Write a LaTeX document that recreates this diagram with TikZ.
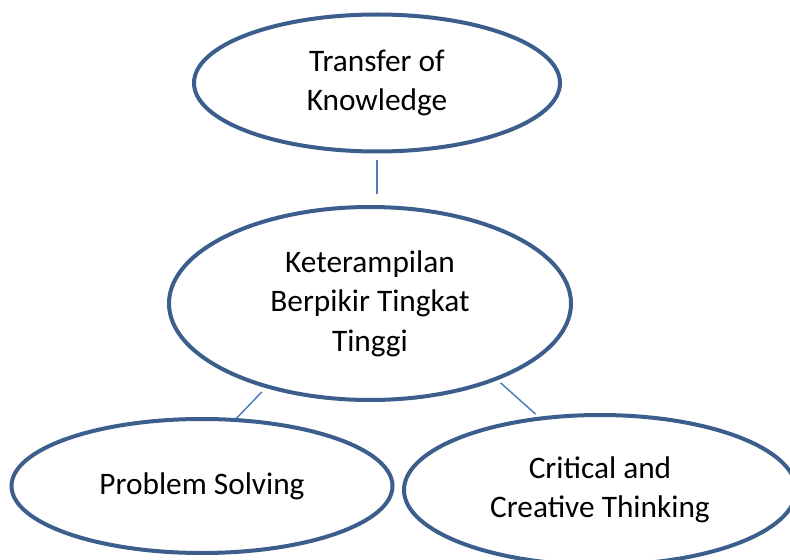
\documentclass[tikz,border=0pt]{standalone}
\usepackage{fontspec}
\setmainfont{Carlito}
\usetikzlibrary{shapes.geometric}
\definecolor{rimblue}{HTML}{3B5E8C}
\definecolor{linkblue}{HTML}{4A7EBB}
\begin{document}
\begin{tikzpicture}[x=0.75pt,y=-0.75pt,
    bubble/.style={ellipse,draw=rimblue,line width=3pt,fill=white,inner sep=0pt,
      align=center,font=\fontsize{23.5}{29.5}\selectfont},
    link/.style={draw=linkblue,line width=1.1pt}]

  \useasboundingbox (0,0) rectangle (790,560);
  \clip (0,0) rectangle (790,560);

  \node[bubble,minimum width=274.5pt,minimum height=102.75pt] (transfer) at (377,83) {Transfer of\\Knowledge};
  \node[bubble,minimum width=301.5pt,minimum height=144.75pt] (hots) at (370,303.5) {Keterampilan\\Berpikir Tingkat\\Tinggi};
  \node[bubble,minimum width=285.75pt,minimum height=100.5pt] (ps) at (202,486) {Problem Solving};
  \node[bubble,minimum width=294pt,minimum height=112.5pt] (cct) at (600,490) {Critical and\\Creative Thinking};

%  connectors
  \draw[link,shorten <=5pt,shorten >=8pt] (transfer.south) -- (transfer.south |- hots.north);
  \draw[link,shorten <=4pt] (hots.219) -- (ps.63);
  \draw[link,shorten <=3pt,shorten >=3pt] (hots.329) -- (cct.130);
\end{tikzpicture}
\end{document}
